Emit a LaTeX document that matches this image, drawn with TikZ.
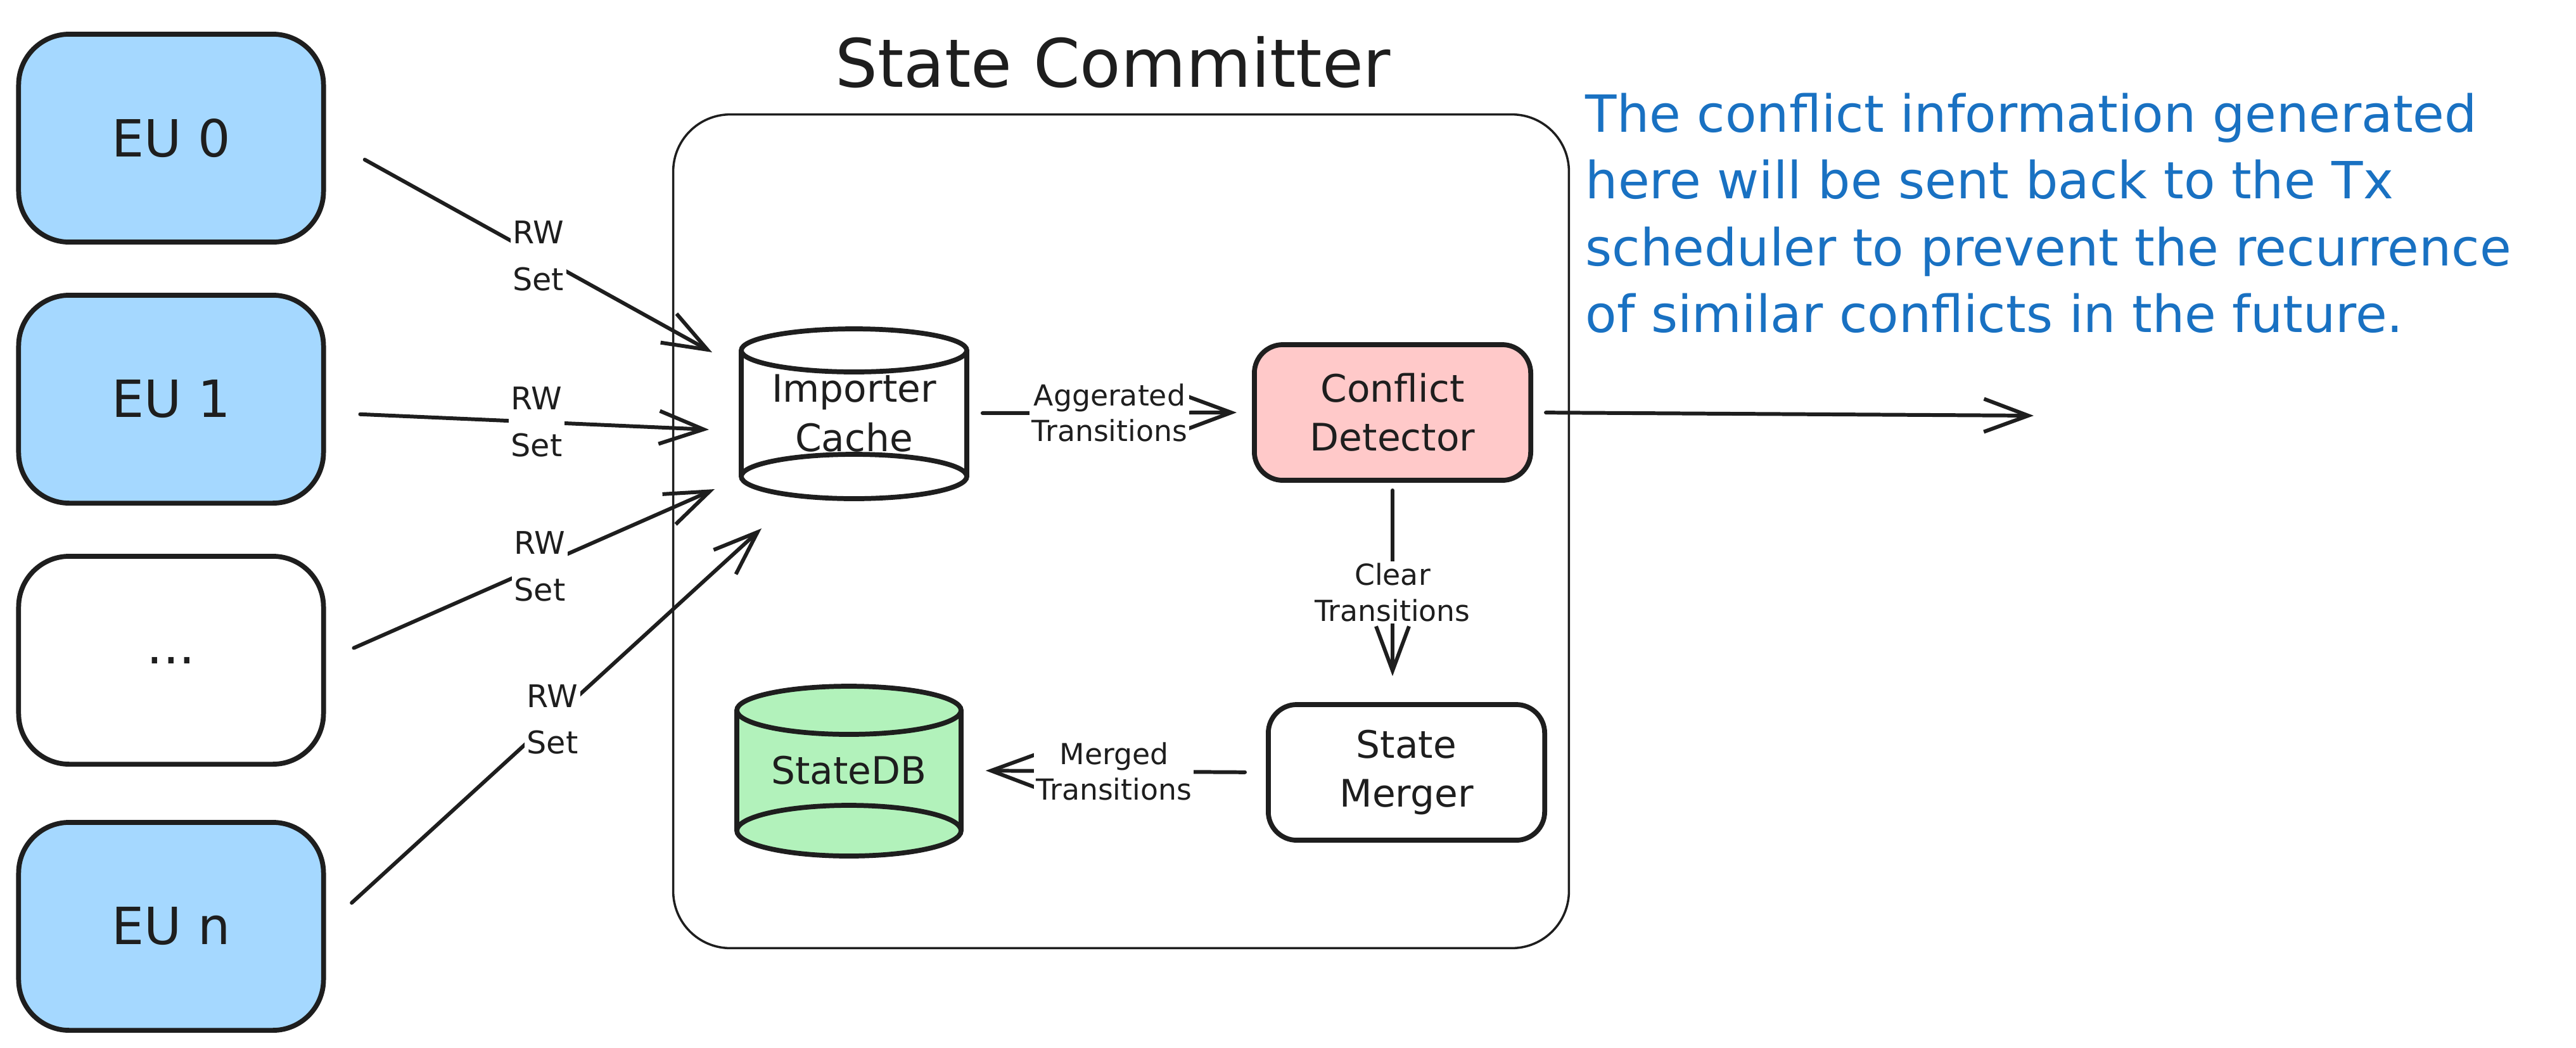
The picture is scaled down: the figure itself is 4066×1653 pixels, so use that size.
\documentclass[tikz,border=0pt]{standalone}
\usepackage{fontspec}
\setmainfont{DejaVu Sans}
\usetikzlibrary{arrows.meta}

\definecolor{ink}{HTML}{1E1E1E}
\definecolor{eublue}{HTML}{A5D8FF}
\definecolor{conflictred}{HTML}{FFC9C9}
\definecolor{dbgreen}{HTML}{B2F2BB}
\definecolor{noteblue}{HTML}{1971C2}

\tikzset{
    eubox/.style={draw=ink, line width=2.2pt, rounded corners=0.8cm,
        minimum width=4.81cm, minimum height=3.28cm, text=ink,
        font=\fontsize{23}{27}\selectfont},
    procbox/.style={draw=ink, line width=2.2pt, rounded corners=0.45cm,
        minimum width=4.36cm, minimum height=2.14cm, align=center, text=ink,
        font=\fontsize{17}{22}\selectfont},
    dbtext/.style={minimum width=3.56cm, minimum height=2.7cm, align=center,
        text=ink, font=\fontsize{17}{22}\selectfont},
    flow/.style={draw=ink, line width=1.7pt, line cap=round,
        -{Straight Barb[length=0.7cm, width=0.52cm]}},
    flowlabel/.style={fill=white, inner sep=1pt, align=center, text=ink,
        font=\fontsize{13}{16}\selectfont},
    rwlabel/.style={flowlabel, font=\fontsize{14}{21}\selectfont},
}

\begin{document}
\begin{tikzpicture}[x=0.01cm, y=-0.01cm]

    % 画布大小
    \useasboundingbox (0,0) rectangle (4066,1653);

    % 标题和外框
    \node[font=\fontsize{30}{36}\selectfont, text=ink] (title) at (1757,98) {State Committer};
    \node[draw=ink, line width=1pt, rounded corners=0.9cm,
        minimum width=14.13cm, minimum height=13.15cm] (committer) at (1769.5,838.5) {};

    % 四个执行单元
    \node[eubox, fill=eublue] (eu0) at (270,218) {EU 0};
    \node[eubox, fill=eublue] (eu1) at (270,630) {EU 1};
    \node[eubox, fill=white] (eudots) at (270,1042) {...};
    \node[eubox, fill=eublue] (eun) at (270,1462) {EU n};

    % Importer Cache 圆柱
    \fill[white] (1170,553) rectangle (1526,752);
    \filldraw[fill=white, draw=ink, line width=2.2pt] (1348,752) ellipse [x radius=178, y radius=35];
    \draw[ink, line width=2.2pt] (1170,553) -- (1170,752);
    \draw[ink, line width=2.2pt] (1526,553) -- (1526,752);
    \filldraw[fill=white, draw=ink, line width=2.2pt] (1348,553) ellipse [x radius=178, y radius=34];
    \node[dbtext] (cache) at (1348,652) {Importer\\Cache};

    % StateDB 圆柱
    \fill[dbgreen] (1163,1121) rectangle (1517,1311);
    \filldraw[fill=dbgreen, draw=ink, line width=2.2pt] (1340,1311) ellipse [x radius=177, y radius=40];
    \draw[ink, line width=2.2pt] (1163,1121) -- (1163,1311);
    \draw[ink, line width=2.2pt] (1517,1121) -- (1517,1311);
    \filldraw[fill=dbgreen, draw=ink, line width=2.2pt] (1340,1121) ellipse [x radius=177, y radius=38];
    \node[dbtext] (statedb) at (1340,1216) {StateDB};

    % 冲突检测与合并
    \node[procbox, fill=conflictred] (detector) at (2198,651) {Conflict\\Detector};
    \node[procbox, fill=white] (merger) at (2220,1219) {State\\Merger};

    % 内部箭头
    \draw[flow, shorten <=0.24cm, shorten >=0.24cm] (cache.east) -- node[flowlabel] {Aggerated\\Transitions} (detector.west);
    \draw[flow, shorten <=0.12cm, shorten >=0.41cm] (detector.south) -- node[flowlabel] {Clear\\Transitions} (detector.south |- merger.north);
    \draw[flow, shorten <=0.33cm, shorten >=0.37cm] (merger.west) -- node[flowlabel] {Merged\\Transitions} (statedb.east);

    % 反馈出口
    \coordinate (feedback) at (3210,656);
    \draw[flow, shorten <=0.2cm] (detector.east) -- (feedback);

    % RW Set 箭头
    \coordinate (rw0) at (1124,556);
    \coordinate (rw1) at (1119,678);
    \coordinate (rw2) at (1128,772);
    \coordinate (rw3) at (1202,834);
    \draw[flow, shorten <=0.7cm] (eu0.east) -- node[rwlabel, pos=0.55] {RW\\Set} (rw0);
    \draw[flow, shorten <=0.54cm] (eu1.-5) -- node[rwlabel, pos=0.55] {RW\\Set} (rw1);
    \draw[flow, shorten <=0.48cm] (eudots.east) -- node[rwlabel, pos=0.55] {RW\\Set} (rw2);
    \draw[flow, shorten <=0.55cm] (eun.east) -- node[rwlabel, pos=0.52] {RW\\Set} (rw3);

    % 说明文字
    \node[anchor=north west, inner sep=0pt, align=left, text=noteblue,
        font=\fontsize{23}{30}\selectfont] (note) at (2502,146)
        {The conflict information generated\\here will be sent back to the Tx\\scheduler to prevent the recurrence\\of similar conflicts in the future.};

\end{tikzpicture}
\end{document}
